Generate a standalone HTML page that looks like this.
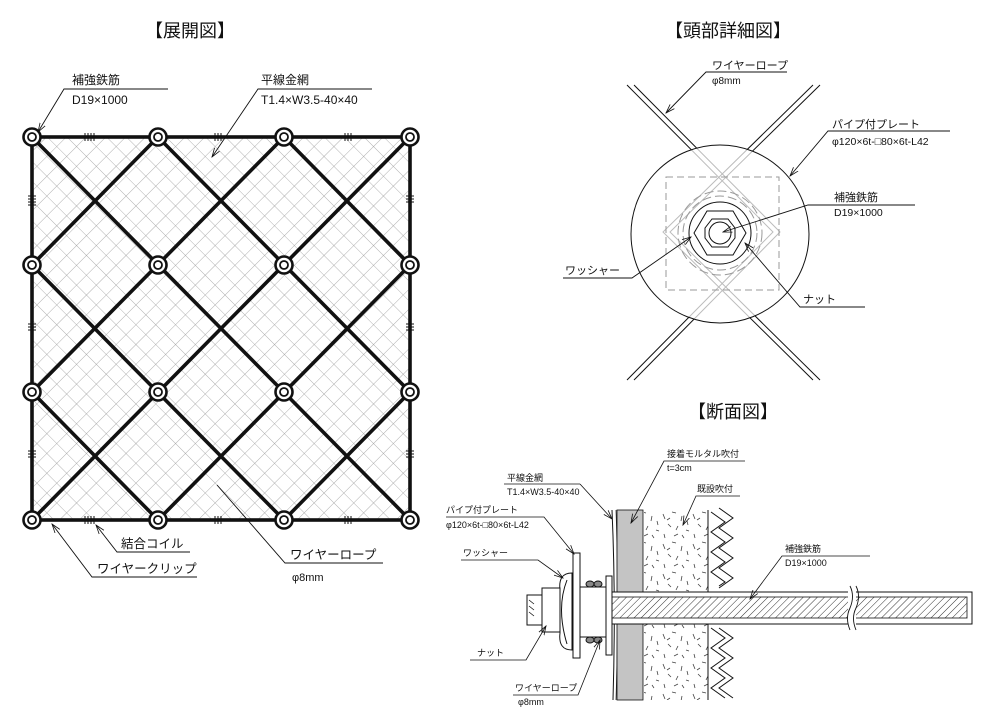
<!DOCTYPE html>
<html><head><meta charset="utf-8">
<style>
html,body{margin:0;padding:0;background:#fff;}
svg{display:block;}
text{font-family:"Liberation Sans","Noto Sans CJK JP",sans-serif;fill:#111;}
</style></head><body>
<svg width="983" height="720" viewBox="0 0 983 720" xmlns="http://www.w3.org/2000/svg">
<defs>
<pattern id="mesh" width="14" height="14" patternUnits="userSpaceOnUse" patternTransform="rotate(45 32 137)">
<path d="M0 0H14M0 0V14" stroke="#9a9a9a" stroke-width="0.8" fill="none"/>
</pattern>
<pattern id="hatch" width="5" height="5" patternUnits="userSpaceOnUse" patternTransform="rotate(45)">
<path d="M0 0V5" stroke="#333" stroke-width="1"/>
</pattern>
<pattern id="speck" width="30" height="30" patternUnits="userSpaceOnUse">
<path d="M3 4l2 5M12 2l4 1M22 6l-1 5M8 14l3 3M18 16l-2 4M26 20l3 1M4 24l1 4M14 26l4-2M24 28l-2-3M27 11l1 4M10 8l-3 2" stroke="#444" stroke-width="0.8" fill="none"/>
</pattern>
<marker id="ar" markerWidth="10" markerHeight="8" refX="9" refY="4" orient="auto" markerUnits="userSpaceOnUse">
<path d="M0 1L9 4L0 7" fill="none" stroke="#111" stroke-width="0.8"/>
</marker>
</defs>

<text x="190" y="37" font-size="18" text-anchor="middle">【展開図】</text>
<text x="728" y="37" font-size="18" text-anchor="middle">【頭部詳細図】</text>
<text x="733" y="418" font-size="18" text-anchor="middle">【断面図】</text>

<rect x="32" y="137" width="378" height="383" fill="url(#mesh)"/>
<g stroke="#111" stroke-width="3.6" fill="none">
<rect x="32" y="137" width="378" height="383"/>
<path d="M32 137L410 520M158 137L410 392M284 137L410 265M32 265L284 520M32 392L158 520"/>
<path d="M158 137L32 265M284 137L32 392M410 137L32 520M410 265L158 520M410 392L284 520"/>
</g>
<g stroke="#111" stroke-width="1" fill="none">
<path d="M85 137v-4v8M88 137v-4v8M91 137v-4v8M94 137v-4v8M215 137v-4v8M218 137v-4v8M221 137v-4v8M345 137v-4v8M348 137v-4v8M351 137v-4v8"/>
<path d="M85 520v-4v8M88 520v-4v8M91 520v-4v8M94 520v-4v8M215 520v-4v8M218 520v-4v8M221 520v-4v8M345 520v-4v8M348 520v-4v8M351 520v-4v8"/>
<path d="M28 196h8M28 199h8M28 202h8M28 205h8M28 324h8M28 327h8M28 330h8M28 451h8M28 454h8M28 457h8M406 196h8M406 199h8M406 202h8M406 324h8M406 327h8M406 330h8M406 451h8M406 454h8M406 457h8"/>
</g>
<g fill="#fff" stroke="#111">
<circle cx="32" cy="137" r="8.5" stroke-width="2.6"/><circle cx="32" cy="137" r="4" stroke-width="1.8"/>
<circle cx="158" cy="137" r="8.5" stroke-width="2.6"/><circle cx="158" cy="137" r="4" stroke-width="1.8"/>
<circle cx="284" cy="137" r="8.5" stroke-width="2.6"/><circle cx="284" cy="137" r="4" stroke-width="1.8"/>
<circle cx="410" cy="137" r="8.5" stroke-width="2.6"/><circle cx="410" cy="137" r="4" stroke-width="1.8"/>
<circle cx="32" cy="265" r="8.5" stroke-width="2.6"/><circle cx="32" cy="265" r="4" stroke-width="1.8"/>
<circle cx="158" cy="265" r="8.5" stroke-width="2.6"/><circle cx="158" cy="265" r="4" stroke-width="1.8"/>
<circle cx="284" cy="265" r="8.5" stroke-width="2.6"/><circle cx="284" cy="265" r="4" stroke-width="1.8"/>
<circle cx="410" cy="265" r="8.5" stroke-width="2.6"/><circle cx="410" cy="265" r="4" stroke-width="1.8"/>
<circle cx="32" cy="392" r="8.5" stroke-width="2.6"/><circle cx="32" cy="392" r="4" stroke-width="1.8"/>
<circle cx="158" cy="392" r="8.5" stroke-width="2.6"/><circle cx="158" cy="392" r="4" stroke-width="1.8"/>
<circle cx="284" cy="392" r="8.5" stroke-width="2.6"/><circle cx="284" cy="392" r="4" stroke-width="1.8"/>
<circle cx="410" cy="392" r="8.5" stroke-width="2.6"/><circle cx="410" cy="392" r="4" stroke-width="1.8"/>
<circle cx="32" cy="520" r="8.5" stroke-width="2.6"/><circle cx="32" cy="520" r="4" stroke-width="1.8"/>
<circle cx="158" cy="520" r="8.5" stroke-width="2.6"/><circle cx="158" cy="520" r="4" stroke-width="1.8"/>
<circle cx="284" cy="520" r="8.5" stroke-width="2.6"/><circle cx="284" cy="520" r="4" stroke-width="1.8"/>
<circle cx="410" cy="520" r="8.5" stroke-width="2.6"/><circle cx="410" cy="520" r="4" stroke-width="1.8"/>
</g>
<g stroke="#111" stroke-width="0.9" fill="none">
<path d="M168 89H64L38 132" marker-end="url(#ar)"/>
<path d="M372 89H258L212 157" marker-end="url(#ar)"/>
<path d="M190 552H117L96 525" marker-end="url(#ar)"/>
<path d="M197 577H92L52 524" marker-end="url(#ar)"/>
<path d="M383 563H285L217 485"/>
</g>
<text x="72" y="84" font-size="12">補強鉄筋</text>
<text x="72" y="104" font-size="12">D19×1000</text>
<text x="261" y="84" font-size="12">平線金網</text>
<text x="261" y="104" font-size="12">T1.4×W3.5-40×40</text>
<text x="121" y="548" font-size="12.5">結合コイル</text>
<text x="97" y="573" font-size="12.5">ワイヤークリップ</text>
<text x="290" y="559" font-size="12.5">ワイヤーロープ</text>
<text x="292" y="581" font-size="11">φ8mm</text>

<g fill="none" stroke="#111" stroke-width="1">
<path d="M627 85L773 232L627 380M634 85L780 232L634 380"/>
<path d="M820 85L670 232L820 380M813 85L663 232L813 380"/>
</g>
<circle cx="720" cy="234" r="89" fill="#fff" fill-opacity="0.72" stroke="#111" stroke-width="1"/>
<rect x="666" y="177" width="113" height="113" fill="none" stroke="#999" stroke-width="1" stroke-dasharray="7,4"/>
<circle cx="720" cy="233" r="42" fill="none" stroke="#999" stroke-dasharray="9,4"/>
<circle cx="720" cy="233" r="37" fill="none" stroke="#999" stroke-dasharray="9,4"/>
<circle cx="720" cy="233" r="31" fill="none" stroke="#111"/>
<polygon points="694,233 707,211 733,211 746,233 733,255 707,255" fill="none" stroke="#111"/>
<polygon points="712,219 728,219 735,228 735,238 728,247 712,247 705,238 705,228" fill="none" stroke="#111"/>
<circle cx="720" cy="233" r="11" fill="none" stroke="#111"/>
<g stroke="#111" stroke-width="0.9" fill="none">
<path d="M787 72H706L666 113" marker-end="url(#ar)"/>
<path d="M950 131H828L790 176" marker-end="url(#ar)"/>
<path d="M915 205H808L723 232" marker-end="url(#ar)"/>
<path d="M563 278H632L691 237" marker-end="url(#ar)"/>
<path d="M865 307H800L745 243" marker-end="url(#ar)"/>
</g>
<text x="712" y="69" font-size="11">ワイヤーロープ</text>
<text x="712" y="84" font-size="10">φ8mm</text>
<text x="832" y="128" font-size="11">パイプ付プレート</text>
<text x="832" y="145" font-size="10.5">φ120×6t-□80×6t-L42</text>
<text x="834" y="201" font-size="11">補強鉄筋</text>
<text x="834" y="216" font-size="10.5">D19×1000</text>
<text x="565" y="274" font-size="11">ワッシャー</text>
<text x="803" y="303" font-size="11">ナット</text>

<path d="M612 510Q616 600 613 700" fill="none" stroke="#111"/>
<path d="M616 510Q619 600 616 700" fill="none" stroke="#111" stroke-width="0.7"/>
<rect x="617" y="510" width="26" height="190" fill="#c4c4c4" stroke="#111" stroke-width="0.8"/>
<rect x="644" y="510" width="64" height="190" fill="url(#speck)"/>
<line x1="708" y1="510" x2="708" y2="700" stroke="#111"/>
<g stroke="#111" stroke-width="1" fill="none">
<path d="M711 512l14 10-14 10 14 10-14 10 14 10-14 10 14 10-6 4"/>
<path d="M719 508l14 10-14 10 14 10-14 10 14 10-14 10 14 10-14 10"/>
<path d="M711 628l14 10-14 10 14 10-14 10 14 10-14 10 14 10"/>
<path d="M719 628l14 10-14 10 14 10-14 10 14 10-14 10 14 10"/>
</g>
<rect x="600" y="592" width="372" height="32" fill="#fff" stroke="#111"/>
<rect x="611" y="597" width="356" height="21" fill="url(#hatch)" stroke="#111" stroke-width="0.8"/>
<rect x="848" y="586" width="8" height="44" fill="#fff"/>
<path d="M850 586q5 10 0 22q-5 10 0 22M856 586q5 10 0 22q-5 10 0 22" fill="none" stroke="#111" stroke-width="0.9"/>
<rect x="606" y="576" width="6" height="79" fill="#fff" stroke="#111"/>
<rect x="580" y="587" width="26" height="50" fill="#fff" stroke="#111"/>
<ellipse cx="590" cy="584" rx="4" ry="3" fill="#888" stroke="#111"/><ellipse cx="598" cy="584" rx="4" ry="3" fill="#888" stroke="#111"/>
<ellipse cx="590" cy="640" rx="4" ry="3" fill="#888" stroke="#111"/><ellipse cx="598" cy="640" rx="4" ry="3" fill="#888" stroke="#111"/>
<rect x="573" y="553" width="7" height="105" fill="#fff" stroke="#111"/>
<path d="M572 573Q558 573 560 590L560 633Q558 650 572 650Z" fill="#fff" stroke="#111"/>
<path d="M567 580Q556 608 567 644" fill="none" stroke="#111"/>
<rect x="542" y="588" width="18" height="44" fill="#fff" stroke="#111"/>
<rect x="527" y="595" width="15" height="30" fill="#fff" stroke="#111"/>
<path d="M529 600l5 4M529 606l5 4M529 612l5 4" stroke="#111" stroke-width="0.8"/>
<g stroke="#111" stroke-width="0.8" fill="none">
<path d="M580 484H504"/><path d="M580 484L612 519" marker-end="url(#ar)"/>
<path d="M446 517H544L574 554" marker-end="url(#ar)"/>
<path d="M461 560H538L563 578" marker-end="url(#ar)"/>
<path d="M470 660H526L546 626" marker-end="url(#ar)"/>
<path d="M513 695H578L600 640" marker-end="url(#ar)"/>
<path d="M745 461H664L631 523" marker-end="url(#ar)"/>
<path d="M740 496H696L683 525" marker-end="url(#ar)"/>
<path d="M870 556H782L750 599" marker-end="url(#ar)"/>
</g>
<g font-size="9">
<text x="507" y="481">平線金網</text>
<text x="507" y="495">T1.4×W3.5-40×40</text>
<text x="446" y="513">パイプ付プレート</text>
<text x="446" y="528">φ120×6t-□80×6t-L42</text>
<text x="463" y="556">ワッシャー</text>
<text x="477" y="656">ナット</text>
<text x="515" y="691">ワイヤーロープ</text>
<text x="518" y="705">φ8mm</text>
<text x="667" y="457">接着モルタル吹付</text>
<text x="667" y="471">t=3cm</text>
<text x="697" y="492">既設吹付</text>
<text x="785" y="552">補強鉄筋</text>
<text x="785" y="566">D19×1000</text>
</g>
</svg>
</body></html>
